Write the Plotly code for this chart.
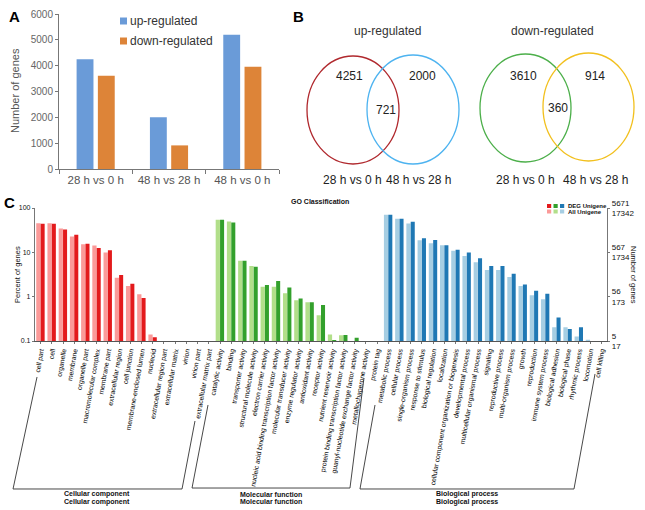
import plotly.graph_objects as go

W, H = 645, 510
FONT = "Liberation Sans, Arial, sans-serif"

# ---- panel A: DEG counts per comparison
comparisons = ["28 h vs 0 h", "48 h vs 28 h", "48 h vs 0 h"]
up_regulated = [4250, 2000, 5200]
down_regulated = [3610, 914, 3960]

# ---- panel B: venn counts (left only, overlap, right only)
venn_sets = ["28 h vs 0 h", "48 h vs 28 h"]
venn_up = [4251, 721, 2000]
venn_down = [3610, 360, 914]

# ---- panel C: GO classification (percent of genes)
cc_terms = ["cell part", "cell", "organelle", "membrane", "organelle part",
            "macromolecular complex", "membrane part", "extracellular region",
            "cell junction", "membrane-enclosed lumen", "nucleoid",
            "extracellular region part", "extracellular matrix", "virion",
            "virion part", "extracellular matrix part"]
cc_all = [45, 45, 34.6, 22.7, 15.3, 14.2, 9.9, 2.68, 1.73, 1.14, 0.141,
          None, None, None, None, None]
cc_deg = [44, 44, 32.8, 24.8, 15.6, 12.6, 11.2, 3.08, 1.96, 0.93, 0.121,
          None, None, None, None, None]

mf_terms = ["catalytic activity", "binding", "transporter activity",
            "structural molecule activity", "electron carrier activity",
            "nucleic acid binding transcription factor activity",
            "molecular transducer activity", "enzyme regulator activity",
            "antioxidant activity", "receptor activity",
            "nutrient reservoir activity",
            "protein binding transcription factor activity",
            "guanyl-nucleotide exchange factor activity",
            "metallochaperone activity", "protein tag"]
mf_all = [54, 49.9, 6.5, 4.9, 1.68, 1.68, 1.2, 0.83, 0.75, 0.38, 0.141,
          0.135, None, None, None]
mf_deg = [54, 47.3, 6.5, 4.75, 1.83, 2.25, 1.62, 0.91, 0.75, 0.65, 0.105,
          0.137, 0.119, None, None]

bp_terms = ["metabolic process", "cellular process", "single-organism process",
            "response to stimulus", "biological regulation", "localization",
            "cellular component organization or biogenesis",
            "developmental process", "multicellular organismal process",
            "signaling", "reproductive process", "multi-organism process",
            "growth", "reproduction", "immune system process",
            "biological adhesion", "biological phase", "rhythmic process",
            "locomotion", "cell killing"]
bp_all = [70.7, 57.3, 44.9, 18.8, 16.1, 14.5, 10.8, 8.3, 5.97, 4.0, 4.0,
          2.77, 1.73, 1.08, 0.88, 0.204, 0.204, 0.127, 0.107, None]
bp_deg = [70, 57.3, 49, 20.9, 19.0, 14.5, 11.4, 9.9, 7.35, 4.92, 4.92,
          3.3, 1.89, 1.36, 1.16, 0.337, 0.187, 0.204, None, None]

deg_total = 5671
all_total = 17342
pct_ticks = [0.1, 1, 10, 100]


def px(x):
    return x / W


def py(y):
    return 1 - y / H


groups = [
    ("Cellular component", cc_terms, cc_all, cc_deg, "#FB9A99", "#E31A1C"),
    ("Molecular function", mf_terms, mf_all, mf_deg, "#B2DF8A", "#33A02C"),
    ("Biological process", bp_terms, bp_all, bp_deg, "#A6CEE3", "#1F78B4"),
]
terms, all_pct, deg_pct, light_cols, dark_cols = [], [], [], [], []
for _, t, a, d, lc, dc in groups:
    terms += t
    all_pct += a
    deg_pct += d
    light_cols += [lc] * len(t)
    dark_cols += [dc] * len(t)

UP_COL, DOWN_COL = "#6A9BD8", "#DD8438"

fig = go.Figure()

# panel A bars
fig.add_trace(go.Bar(x=comparisons, y=up_regulated, name="up-regulated",
                     marker_color=UP_COL, width=0.23, offset=-0.26,
                     xaxis="x", yaxis="y"))
fig.add_trace(go.Bar(x=comparisons, y=down_regulated, name="down-regulated",
                     marker_color=DOWN_COL, width=0.23, offset=0.03,
                     xaxis="x", yaxis="y"))

# panel C bars
fig.add_trace(go.Bar(x=terms, y=all_pct, name="All Unigene",
                     marker=dict(color=light_cols, line=dict(width=0)),
                     width=0.38, offset=-0.39, xaxis="x2", yaxis="y2"))
fig.add_trace(go.Bar(x=terms, y=deg_pct, name="DEG Unigene",
                     marker=dict(color=dark_cols, line=dict(width=0)),
                     width=0.36, offset=0.0, xaxis="x2", yaxis="y2"))
# dummy trace so the right-hand gene-count axis is drawn
fig.add_trace(go.Scatter(x=[terms[0]], y=[1], mode="markers",
                         marker=dict(opacity=0), hoverinfo="skip",
                         xaxis="x2", yaxis="y3"))

right_text = ["%d<br>%d" % (int(deg_total * p / 100), int(all_total * p / 100))
              for p in pct_ticks]

ann = []


def add_text(x, y, text, size, color="#222", bold=False, angle=0, anchor="center"):
    if bold:
        text = "<b>%s</b>" % text
    ann.append(dict(x=px(x), y=py(y), xref="paper", yref="paper", text=text,
                    showarrow=False, xanchor=anchor, yanchor="middle",
                    textangle=angle, font=dict(size=size, color=color, family=FONT)))


# panel letters
add_text(14, 17, "A", 15, "#000", bold=True)
add_text(298, 17, "B", 15, "#000", bold=True)
add_text(9, 203, "C", 15, "#000", bold=True)

# panel A axis title + legend
add_text(15, 91, "Number of genes", 11, "#555", angle=-90)
add_text(128, 21, "up-regulated", 12, "#333", anchor="left")
add_text(128, 41, "down-regulated", 12, "#333", anchor="left")

# panel B venn text
add_text(387, 31, "up-regulated", 12, "#333")
add_text(552, 31, "down-regulated", 12, "#333")
add_text(349, 76, str(venn_up[0]), 12, "#222")
add_text(386, 110, str(venn_up[1]), 12, "#222")
add_text(422, 76, str(venn_up[2]), 12, "#222")
add_text(523, 76, str(venn_down[0]), 12, "#222")
add_text(558, 108, str(venn_down[1]), 12, "#222")
add_text(595, 76, str(venn_down[2]), 12, "#222")
add_text(353, 180, venn_sets[0], 12, "#222")
add_text(418, 180, venn_sets[1], 12, "#222")
add_text(525, 180, venn_sets[0], 12, "#222")
add_text(595, 180, venn_sets[1], 12, "#222")

# panel C titles / legend
add_text(320, 202, "GO Classification", 7, "#111", bold=True)
add_text(17, 275, "Percent of genes", 7.5, "#111", angle=-90)
add_text(634, 275, "Number of genes", 7.5, "#111", angle=90)
add_text(566, 205.5, "DEG Unigene", 6, "#111", bold=True, anchor="left")
add_text(566, 211.5, "All Unigene", 6, "#111", bold=True, anchor="left")
for name, cx in [(groups[0][0], 97), (groups[1][0], 271), (groups[2][0], 467)]:
    add_text(cx, 494, name, 7, "#111", bold=True)
    add_text(cx, 501.5, name, 7, "#111", bold=True)

shapes = []
# panel A legend squares
for (yc, c) in [(21, UP_COL), (41, DOWN_COL)]:
    shapes.append(dict(type="rect", xref="paper", yref="paper",
                       x0=px(120), x1=px(127), y0=py(yc + 3.5), y1=py(yc - 3.5),
                       fillcolor=c, line=dict(width=0)))

# venn ellipses
for (x0, x1, y0, y1, col) in [(307, 399, 56, 164, "#B0282D"),
                              (367, 459, 55, 164, "#4DB3F0"),
                              (480, 571, 54, 162, "#4CAF4A"),
                              (543, 634, 53, 161, "#F2C01E")]:
    shapes.append(dict(type="circle", xref="paper", yref="paper",
                       x0=px(x0), x1=px(x1), y0=py(y1), y1=py(y0),
                       line=dict(color=col, width=1.3)))

# legend squares panel C
for i, (_, _, _, _, lc, dc) in enumerate(groups):
    x0 = 547 + i * 6.5
    for (ya, yb, c) in [(204, 208, dc), (209.5, 213.5, lc)]:
        shapes.append(dict(type="rect", xref="paper", yref="paper",
                           x0=px(x0), x1=px(x0 + 4.2), y0=py(yb), y1=py(ya),
                           fillcolor=c, line=dict(width=0)))

# group brackets
for pts in [[(37, 377), (13, 489), (182, 489), (195, 421)],
            [(208, 405), (192, 488), (350, 488), (364, 378)],
            [(375, 405), (360, 489), (574, 489), (595, 374)]]:
    path = "M " + " L ".join("%.4f,%.4f" % (px(a), py(b)) for a, b in pts)
    shapes.append(dict(type="path", xref="paper", yref="paper", path=path,
                       line=dict(color="#333", width=0.9)))

fig.update_layout(
    width=W, height=H, template="none",
    margin=dict(l=0, r=0, t=0, b=0),
    paper_bgcolor="white", plot_bgcolor="white",
    font=dict(family=FONT),
    barmode="overlay",
    showlegend=False,
    xaxis=dict(domain=[px(59), px(279)], anchor="y", range=[-0.5, 2.5],
               showgrid=False, showline=True, linecolor="#777", linewidth=1,
               ticks="outside", tickson="boundaries", ticklen=4, tickcolor="#777",
               tickfont=dict(size=11.5, color="#555"), automargin=False),
    yaxis=dict(domain=[py(169), py(14)], anchor="x", range=[0, 6000],
               dtick=1000, showgrid=False, showline=True, linecolor="#777",
               ticks="outside", ticklen=3, tickcolor="#777",
               tickfont=dict(size=10, color="#666"), automargin=False),
    xaxis2=dict(domain=[px(35), px(607)], anchor="y2", range=[-0.5, len(terms) - 0.5],
                showgrid=False, showline=True, linecolor="#555", linewidth=1,
                ticks="outside", ticklen=2, tickcolor="#777", tickangle=-80,
                tickfont=dict(size=6.8, color="#000"), automargin=False),
    yaxis2=dict(domain=[py(341), py(208)], anchor="x2", type="log",
                range=[-1, 2], tickvals=pct_ticks, ticktext=["0.1", "1", "10", "100"],
                showgrid=False, showline=True, linecolor="#777", linewidth=1.2,
                ticks="outside", ticklen=2, tickcolor="#777",
                tickfont=dict(size=7, color="#111"), automargin=False),
    yaxis3=dict(overlaying="y2", anchor="x2", side="right", type="log",
                range=[-1, 2], tickvals=pct_ticks, ticktext=right_text,
                showgrid=False, showline=True, linecolor="#777", linewidth=1.2,
                ticks="outside", ticklen=2, tickcolor="#777",
                tickfont=dict(size=8, color="#111"), automargin=False),
    annotations=ann,
    shapes=shapes,
)

fig.write_html("out.html", config={"displayModeBar": False},
               post_script="document.body.style.margin='0';")
